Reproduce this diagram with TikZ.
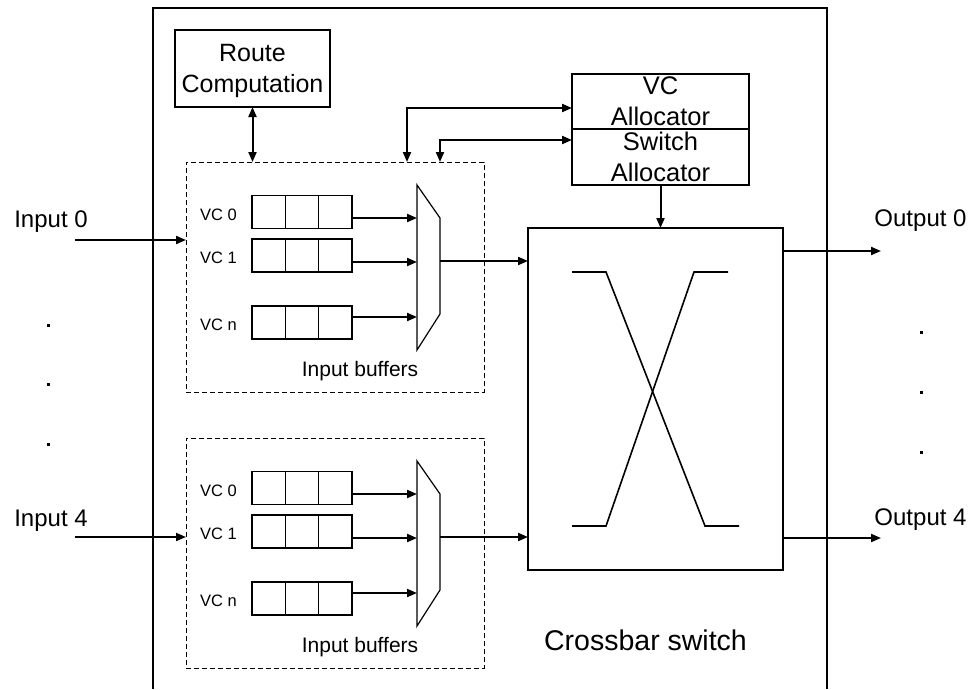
\documentclass[tikz,border=0pt]{standalone}
\usepackage{fontspec}
\setmainfont{Liberation Sans}
\usetikzlibrary{shapes.geometric, arrows.meta, positioning, calc}

\begin{document}
\begin{tikzpicture}[x=1pt, y=-1pt, align=center, >={Triangle[length=10pt, width=8pt]},
    box/.style={draw, rectangle, line width=1.2pt, inner sep=0pt, outer sep=0pt},
    dashbox/.style={draw, rectangle, line width=1pt, dash pattern=on 5pt off 3pt, minimum width=298pt, minimum height=230pt, outer sep=0pt},
    cell/.style={draw, rectangle, line width=1.4pt, minimum width=33.3pt, minimum height=33pt, inner sep=0pt, outer sep=0pt},
    conn/.style={line width=2pt},
    mux/.style={line width=1.2pt},
    bigtxt/.style={font=\fontsize{24}{28}\selectfont, anchor=base},
    vctxt/.style={font=\fontsize{16.5}{18}\selectfont, anchor=base},
    buftxt/.style={font=\fontsize{21}{24}\selectfont, anchor=base}]
    \useasboundingbox (0,0) rectangle (974,689);

    % router outline
    \draw[line width=1.2pt] (153,689) -- (153,8) -- (827,8) -- (827,689);

    \node [box, minimum width=155pt, minimum height=77pt, text depth=0pt, font=\fontsize{25}{31}\selectfont] (rc) at (252.5,68.5)
      {Route\\Computation};
    \node [box, minimum width=177pt, minimum height=55pt, font=\fontsize{25.5}{31}\selectfont] (vcal) at (660.5,101.5)
      {VC\\Allocator};
    \node [box, minimum width=177pt, minimum height=56pt, font=\fontsize{25.5}{31}\selectfont, below=0pt of vcal] (swal)
      {Switch\\Allocator};

    % crossbar
    \node [box, minimum width=255pt, minimum height=342pt] (xbar) at (655.5,399) {};
    \draw[line width=1.6pt] (572,272) -- (606,272) -- (705,526) -- (739,526);
    \draw[line width=1.6pt] (572,526) -- (606,526) -- (694,272) -- (728,272);
    \node [font=\fontsize{28.5}{32}\selectfont, anchor=base] (xbartxt) at (645.5,650) {Crossbar switch};

    % input buffers, first block
    \node [dashbox] (iba) at (335,277) {};
    \node [buftxt] (ibatxt) at (360,376) {Input buffers};
    \node [cell] (a0c1) at (268.65,212) {};
    \node [cell, right=0pt of a0c1] (a0c2) {};
    \node [cell, right=0pt of a0c2] (a0c3) {};
    \node [cell] (a1c1) at (268.65,255.5) {};
    \node [cell, right=0pt of a1c1] (a1c2) {};
    \node [cell, right=0pt of a1c2] (a1c3) {};
    \node [cell] (anc1) at (268.65,322.5) {};
    \node [cell, right=0pt of anc1] (anc2) {};
    \node [cell, right=0pt of anc2] (anc3) {};
    \node [vctxt] (a0txt) at (218.5,220) {VC 0};
    \node [vctxt] (a1txt) at (218.5,263) {VC 1};
    \node [vctxt] (antxt) at (218.5,330) {VC n};
    \draw[mux] (417,185) -- (440,218) -- (440,314) -- (417,350) -- cycle;
    \coordinate (muxa) at (417,267);
    \coordinate (muxaout) at (440,261);

    % input buffers, second block
    \node [dashbox] (ibb) at (335,553) {};
    \node [buftxt] (ibbtxt) at (360,652) {Input buffers};
    \node [cell] (b0c1) at (268.65,488) {};
    \node [cell, right=0pt of b0c1] (b0c2) {};
    \node [cell, right=0pt of b0c2] (b0c3) {};
    \node [cell] (b1c1) at (268.65,531.5) {};
    \node [cell, right=0pt of b1c1] (b1c2) {};
    \node [cell, right=0pt of b1c2] (b1c3) {};
    \node [cell] (bnc1) at (268.65,598.5) {};
    \node [cell, right=0pt of bnc1] (bnc2) {};
    \node [cell, right=0pt of bnc2] (bnc3) {};
    \node [vctxt] (b0txt) at (218.5,496) {VC 0};
    \node [vctxt] (b1txt) at (218.5,539) {VC 1};
    \node [vctxt] (bntxt) at (218.5,606) {VC n};
    \draw[mux] (417,461) -- (440,494) -- (440,590) -- (417,626) -- cycle;
    \coordinate (muxb) at (417,543);
    \coordinate (muxbout) at (440,537);

    % ports
    \node [bigtxt] (in0txt) at (51,227) {Input 0};
    \node [bigtxt] (in4txt) at (51,526) {Input 4};
    \node [bigtxt] (out0txt) at (920.5,226) {Output 0};
    \node [bigtxt] (out4txt) at (920.5,525) {Output 4};
    \coordinate (in0) at (75,240);
    \coordinate (in4) at (75,537);
    \coordinate (out0) at (881,251);
    \coordinate (out4) at (881,538);
    \fill (46.5,323.5) rectangle ++(3,3);
    \fill (46.5,382.5) rectangle ++(3,3);
    \fill (46.5,442.5) rectangle ++(3,3);
    \fill (919.5,330.5) rectangle ++(3,3);
    \fill (919.5,390.5) rectangle ++(3,3);
    \fill (919.5,450.5) rectangle ++(3,3);

    \draw[->, conn] (in0) -- (in0 -| iba.west);
    \draw[->, conn] (in4) -- (in4 -| ibb.west);
    \draw[->, conn] ([yshift=-6pt]a0c3.east) -- ([yshift=-6pt]a0c3.east -| muxa);
    \draw[->, conn] ([yshift=-6.5pt]a1c3.east) -- ([yshift=-6.5pt]a1c3.east -| muxa);
    \draw[->, conn] ([yshift=5.5pt]anc3.east) -- ([yshift=5.5pt]anc3.east -| muxa);
    \draw[->, conn] ([yshift=-6pt]b0c3.east) -- ([yshift=-6pt]b0c3.east -| muxb);
    \draw[->, conn] ([yshift=-6.5pt]b1c3.east) -- ([yshift=-6.5pt]b1c3.east -| muxb);
    \draw[->, conn] ([yshift=5.5pt]bnc3.east) -- ([yshift=5.5pt]bnc3.east -| muxb);
    \draw[->, conn] (muxaout) -- (muxaout -| xbar.west);
    \draw[->, conn] (muxbout) -- (muxbout -| xbar.west);
    \draw[->, conn] (out0 -| xbar.east) -- (out0);
    \draw[->, conn] (out4 -| xbar.east) -- (out4);
    \draw[<->, conn] (rc.south) -- (rc.south |- iba.north);
    \draw[<->, conn] ([yshift=-6.5pt]vcal.west) -| ([xshift=72pt]iba.north);
    \draw[<->, conn] ([yshift=17pt]swal.west) -| ([xshift=105pt]iba.north);
    \draw[->, conn] (swal.south) -- (swal.south |- xbar.north);
  \end{tikzpicture}
\end{document}
